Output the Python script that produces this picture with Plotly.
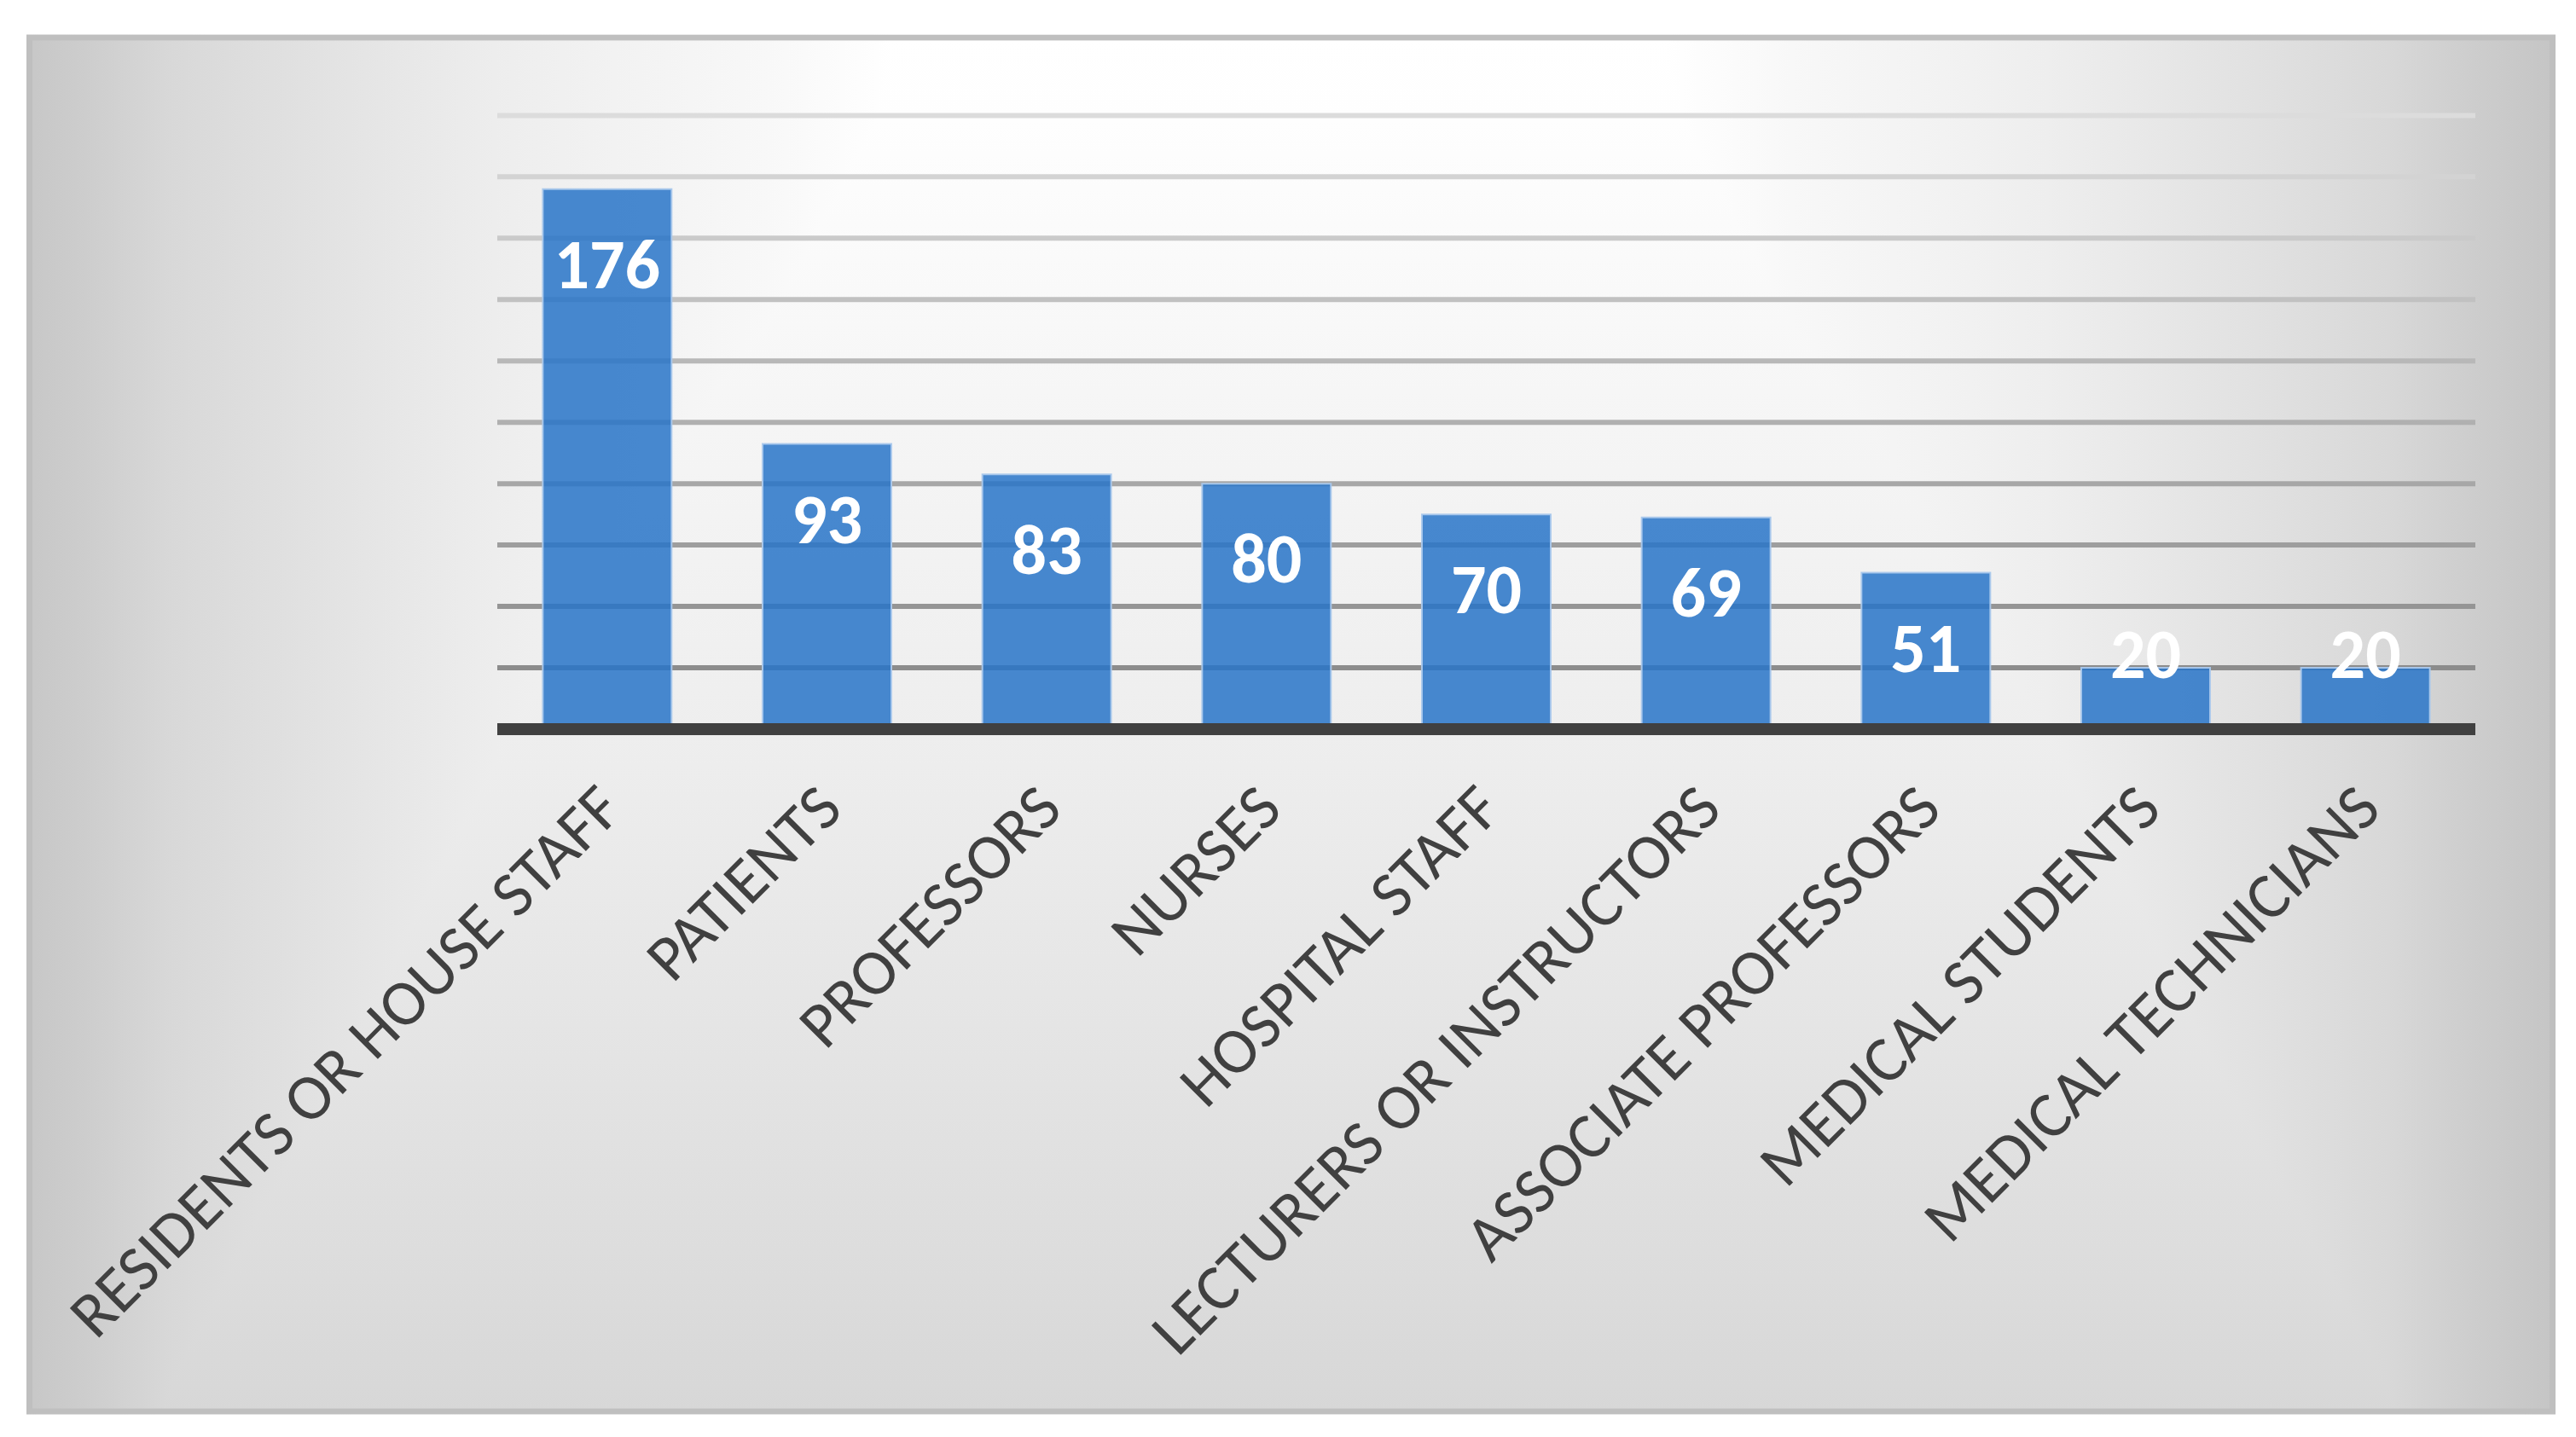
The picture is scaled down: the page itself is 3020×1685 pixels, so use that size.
import base64
import plotly.graph_objects as go

# ---------------- data ----------------
categories = [
    "RESIDENTS OR HOUSE STAFF",
    "PATIENTS",
    "PROFESSORS",
    "NURSES",
    "HOSPITAL STAFF",
    "LECTURERS OR INSTRUCTORS",
    "ASSOCIATE PROFESSORS",
    "MEDICAL STUDENTS",
    "MEDICAL TECHNICIANS",
]
counts = [176, 93, 83, 80, 70, 69, 51, 20, 20]
grid_values = [20, 40, 60, 80, 100, 120, 140, 160, 180, 200]

# ---------------- geometry (page pixels) ----------------
BODY = 8                      # default <body> margin of the html page
PAGE_W, PAGE_H = 3020, 1685
W, H = PAGE_W - BODY, PAGE_H - BODY
Y_LO, Y_HI = -2.5, 201.5      # small padding so the thick lines at 0 and 200 are not clipped
PXU = 3.6                     # pixels per unit
PX0, PX1 = 583 - BODY, 2902 - BODY                      # plot area left/right
PY0 = 135 - BODY - (Y_HI - 200) * PXU                    # plot area top
PY1 = 855 - BODY - Y_LO * PXU                            # plot area bottom
FX0, FY0, FX1, FY1 = 31 - BODY, 40 - BODY, 2996 - BODY, 1659 - BODY   # chart frame

pw, ph = PX1 - PX0, PY1 - PY0


def px_to_paper_x(px):
    return (px - PX0) / pw


def px_to_paper_y(py):
    return (PY1 - py) / ph


# ---------------- background gradient (SVG, rectangular "path" look) ----------------
fw, fh = FX1 - FX0, FY1 - FY0
cx = 1500 - BODY - FX0
h_prof = [(0, 255), (450, 255), (600, 248), (900, 238), (1000, 233), (1200, 222),
          (1300, 216), (1400, 205), (1500, 197)]
v_prof = [(0, 255), (100, 254), (460, 245), (820, 238), (1200, 228), (1620, 215)]


def gray(v):
    return "#%02x%02x%02x" % (v, v, v)


def interp(prof, d):
    for (d0, c0), (d1, c1) in zip(prof, prof[1:]):
        if d <= d1:
            t = (d - d0) / (d1 - d0)
            return int(round(c0 + (c1 - c0) * t))
    return prof[-1][1]


hstops = []
for d, _ in reversed(h_prof):
    x = cx - d
    if 0 <= x <= fw:
        hstops.append(x)
for d, _ in h_prof[1:]:
    x = cx + d
    if 0 <= x <= fw:
        hstops.append(x)
hstops = sorted(set([0, fw] + hstops))
h_xml = "".join(f'<stop offset="{x / fw:.4f}" stop-color="{gray(interp(h_prof, abs(x - cx)))}"/>'
                for x in hstops)
v_xml = "".join(f'<stop offset="{min(d, fh) / fh:.4f}" stop-color="{gray(c)}"/>' for d, c in v_prof)

svg = (
    f'<svg xmlns="http://www.w3.org/2000/svg" width="{fw}" height="{fh}" '
    f'viewBox="0 0 {fw} {fh}" preserveAspectRatio="none">'
    f'<defs>'
    f'<linearGradient id="h" gradientUnits="userSpaceOnUse" x1="0" y1="0" x2="{fw}" y2="0">{h_xml}</linearGradient>'
    f'<linearGradient id="v" gradientUnits="userSpaceOnUse" x1="0" y1="0" x2="0" y2="{fh}">{v_xml}</linearGradient>'
    f'</defs>'
    f'<g style="isolation:isolate">'
    f'<rect x="0" y="0" width="{fw}" height="{fh}" fill="url(#h)"/>'
    f'<rect x="0" y="0" width="{fw}" height="{fh}" fill="url(#v)" style="mix-blend-mode:darken"/>'
    f'</g>'
    f'<rect x="3.5" y="3.5" width="{fw - 7}" height="{fh - 7}" fill="none" '
    f'stroke="#bfbfbf" stroke-width="7"/></svg>'
)
svg_uri = "data:image/svg+xml;base64," + base64.b64encode(svg.encode()).decode()

# ---------------- figure ----------------
fig = go.Figure()

fig.add_trace(go.Bar(
    x=categories,
    y=counts,
    marker=dict(color="rgba(40,116,200,0.85)",
                line=dict(color="rgba(170,200,236,0.95)", width=2)),
    hoverinfo="skip",
))

# data labels (Excel "inside end", kept above the axis for short bars)
LABEL_OFFSET = 26.6
LABEL_MIN = 22.4
label_y = [max(v - LABEL_OFFSET, LABEL_MIN) for v in counts]
fig.add_trace(go.Scatter(
    x=categories,
    y=label_y,
    mode="text",
    text=[str(v) for v in counts],
    textposition="middle center",
    textfont=dict(family="Calibri, Carlito, Lato, sans-serif", size=82, color="white",
                  weight="bold"),
    hoverinfo="skip",
))

shapes = []
lo, hi = 0x8c, 0xdc
for gv in grid_values:
    t = (gv - grid_values[0]) / (grid_values[-1] - grid_values[0])
    c = int(round(lo + (hi - lo) * t))
    shapes.append(dict(type="line", xref="paper", yref="y", x0=0, x1=1, y0=gv, y1=gv,
                       line=dict(color=f"rgb({c},{c},{c})", width=6), layer="below"))
# thick category axis line at zero
shapes.append(dict(type="line", xref="paper", yref="y", x0=0, x1=1, y0=0, y1=0,
                   line=dict(color="#404040", width=14), layer="above"))

fig.update_layout(
    width=W, height=H,
    margin=dict(l=PX0, r=W - PX1, t=PY0, b=H - PY1, pad=0),
    paper_bgcolor="white",
    plot_bgcolor="rgba(0,0,0,0)",
    showlegend=False,
    bargap=0.414,
    hovermode=False,
    shapes=shapes,
    images=[dict(
        source=svg_uri, xref="paper", yref="paper",
        x=px_to_paper_x(FX0), y=px_to_paper_y(FY0),
        sizex=fw / pw, sizey=fh / ph,
        xanchor="left", yanchor="top", sizing="stretch", layer="below",
    )],
    xaxis=dict(
        showgrid=False, zeroline=False, showline=False,
        tickangle=-45,
        ticks="outside", ticklen=7, tickcolor="rgba(0,0,0,0)",
        ticklabelshift=-6,
        tickfont=dict(family="Calibri, Carlito, Lato, sans-serif", size=76, color="#404040"),
        fixedrange=True,
    ),
    yaxis=dict(
        range=[Y_LO, Y_HI], showgrid=False, zeroline=False, showline=False,
        showticklabels=False, ticks="", fixedrange=True,
    ),
)

fig.write_html("out.html", config={"displayModeBar": False, "staticPlot": True})
